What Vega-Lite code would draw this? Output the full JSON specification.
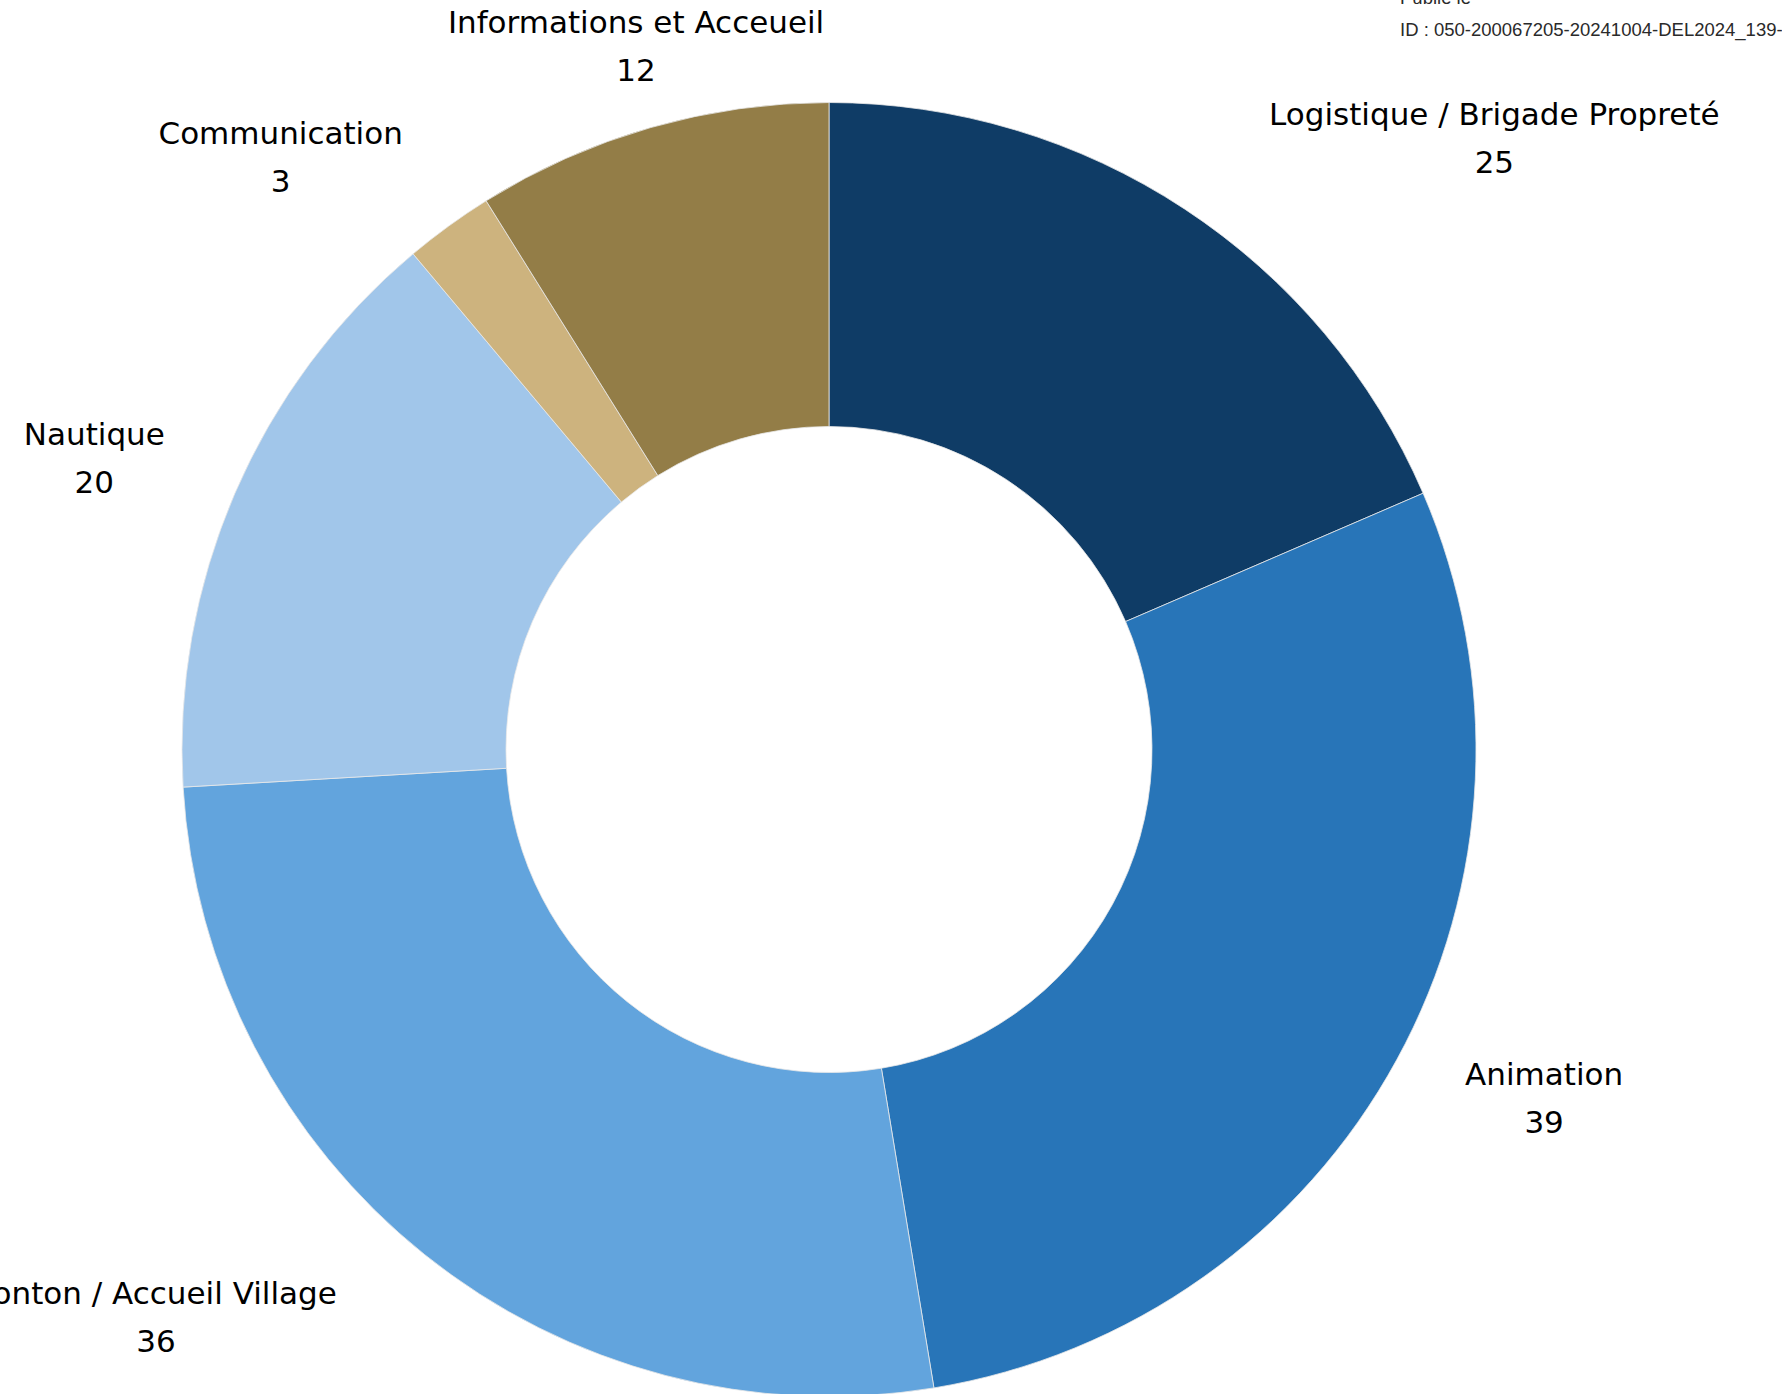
{
  "$schema": "https://vega.github.io/schema/vega-lite/v6.json",
  "width": 1658,
  "height": 1289,
  "autosize": {"type": "none"},
  "padding": {"left": 0, "top": 105, "right": 124, "bottom": 0},
  "background": "white",
  "title": {
    "text": "Publié le",
    "subtitle": "ID : 050-200067205-20241004-DEL2024_139-DE",
    "anchor": "start",
    "frame": "group",
    "orient": "top",
    "dx": 1400,
    "offset": -32,
    "font": "Liberation Sans",
    "subtitleFont": "Liberation Sans",
    "fontSize": 18.5,
    "subtitleFontSize": 18.5,
    "fontWeight": "normal",
    "color": "#2a2a2a",
    "subtitleColor": "#2a2a2a",
    "subtitlePadding": 14
  },
  "data": {
    "values": [
      {"categorie": "Logistique / Brigade Propreté", "n": 25},
      {"categorie": "Animation", "n": 39},
      {"categorie": "Ponton / Accueil Village", "n": 36},
      {"categorie": "Nautique", "n": 20},
      {"categorie": "Communication", "n": 3},
      {"categorie": "Informations et Acceueil", "n": 12}
    ]
  },
  "transform": [{"window": [{"op": "row_number", "as": "rang"}]}],
  "encoding": {
    "theta": {"field": "n", "type": "quantitative", "stack": true},
    "order": {"field": "rang", "type": "quantitative", "sort": "ascending"}
  },
  "layer": [
    {
      "mark": {"type": "arc", "outerRadius": 647, "innerRadius": 323, "stroke": "#e8e8e8", "strokeWidth": 0.8},
      "encoding": {
        "color": {
          "field": "categorie",
          "type": "nominal",
          "legend": null,
          "scale": {
            "domain": ["Logistique / Brigade Propreté", "Animation", "Ponton / Accueil Village", "Nautique", "Communication", "Informations et Acceueil"],
            "range": ["#0F3C66", "#2875B8", "#62A4DD", "#A1C6EA", "#CDB37E", "#937D47"]
          }
        }
      }
    },
    {
      "mark": {
        "type": "text",
        "radius": 700,
        "font": "DejaVu Sans",
        "fontSize": 31,
        "color": "#000000",
        "align": "center",
        "baseline": "middle",
        "dx": {"expr": "clamp((abs(sin((scale('theta', datum.n_start) + scale('theta', datum.n_end)) / 2)) - 0.3) * 5, 0, 1) * (sin((scale('theta', datum.n_start) + scale('theta', datum.n_end)) / 2) > 0 ? 1 : -1) * (length(datum.categorie) * 0.29 * 31 + 20)"},
        "dy": {"expr": "-30 * cos((scale('theta', datum.n_start) + scale('theta', datum.n_end)) / 2) - 24"}
      },
      "encoding": {"text": {"field": "categorie"}}
    },
    {
      "mark": {
        "type": "text",
        "radius": 700,
        "font": "DejaVu Sans",
        "fontSize": 31,
        "color": "#000000",
        "align": "center",
        "baseline": "middle",
        "dx": {"expr": "clamp((abs(sin((scale('theta', datum.n_start) + scale('theta', datum.n_end)) / 2)) - 0.3) * 5, 0, 1) * (sin((scale('theta', datum.n_start) + scale('theta', datum.n_end)) / 2) > 0 ? 1 : -1) * (length(datum.categorie) * 0.29 * 31 + 20)"},
        "dy": {"expr": "-30 * cos((scale('theta', datum.n_start) + scale('theta', datum.n_end)) / 2) + 24"}
      },
      "encoding": {"text": {"field": "n", "type": "quantitative"}}
    }
  ]
}
